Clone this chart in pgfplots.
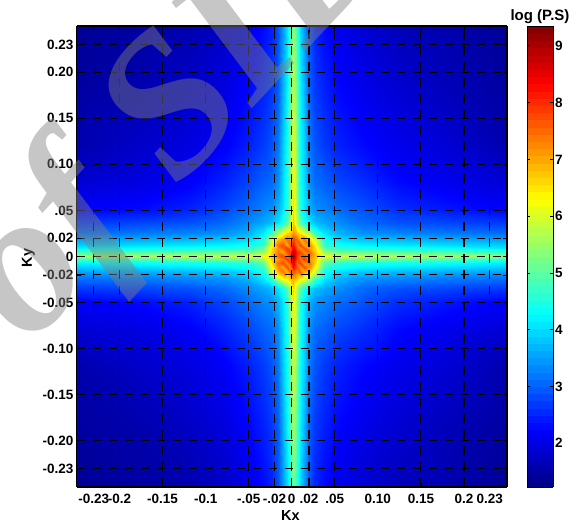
\documentclass[border=0pt]{standalone}
\usepackage{fontspec}
\setmainfont{Liberation Sans}
\newfontfamily\wmfont{Liberation Serif}
\usepackage{pgfplots}
\pgfplotsset{compat=1.18}
\begin{document}
\begin{tikzpicture}[x=1pt,y=1pt]
\path[use as bounding box] (0,0) rectangle (576,525);
\begin{axis}[
  at={(76.5pt,38pt)},anchor=south west,scale only axis,width=430.5pt,height=461pt,
  view={0}{90},xmin=-0.25,xmax=0.25,ymin=-0.25,ymax=0.25,
  axis on top,colormap/jet,point meta min=1.23,point meta max=9.35,
  xtick={-0.23,-0.2,-0.15,-0.1,-0.05,-0.02,0,0.02,0.05,0.1,0.15,0.2,0.23},
  xticklabels={-0.23,-0.2,-0.15,-0.1,-.05,-.02,0,.02,.05,0.10,0.15,0.2,0.23},
  ytick={-0.23,-0.2,-0.15,-0.1,-0.05,-0.02,0,0.02,0.05,0.1,0.15,0.2,0.23},
  yticklabels={-0.23,-0.20,-0.15,-0.10,-0.05,-0.02,0,0.02,.05,0.10,0.15,0.20,0.23},
  tick align=inside,tick pos=both,major tick length=4pt,
  tick style={black,line width=0.8pt},
  grid=major,major grid style={black,line width=1.1pt,dash pattern=on 8.5pt off 7.5pt},
  axis line style={black,line width=1.1pt},
  tick label style={font=\fontsize{13.5}{15}\selectfont\bfseries},
  xticklabel style={inner sep=2pt,yshift=-5pt},
  yticklabel style={inner sep=2pt,xshift=-1pt},
  xlabel={Kx},ylabel={Ky},
  label style={font=\fontsize{14.5}{16}\selectfont\bfseries},
  xlabel style={at={(axis description cs:0.497,0)},anchor=center,yshift=-29pt,inner sep=0pt},
  ylabel style={at={(axis description cs:0,0.497)},anchor=center,yshift=48pt,inner sep=0pt},
  colorbar sampled,
  colorbar style={at={(1.0465,1)},anchor=north west,width=26pt,height=461pt,samples=65,
    ymin=1.23,ymax=9.35,
    ytick={2,3,4,5,6,7,8,9},yticklabels={2,3,4,5,6,7,8,9},
    tick align=inside,tick pos=both,yticklabel pos=right,xtick=\empty,
    major tick length=3pt,
    tick style={black,line width=0.8pt},
    axis line style={black,line width=0.9pt},
    yticklabel style={font=\fontsize{13.5}{15}\selectfont\bfseries,inner sep=2pt},
    title={log (P.S)},
    title style={font=\fontsize{15}{16}\selectfont\bfseries,yshift=-6pt,inner sep=2pt,xshift=0pt},
  },
]
\addplot3[surf,shader=interp,mesh/rows=23,mesh/cols=23,mesh/ordering=x varies] coordinates {
(-.25,-.25,1.4)(-.178,-.25,1.5)(-.118,-.25,1.6)(-.078,-.25,1.8)(-.048,-.25,2.1)(-.033,-.25,2.3)(-.023,-.25,2.5)(-.016,-.25,2.9)(-.01,-.25,3.5)(-.006,-.25,4.0)(-.002,-.25,4.5)(.002,-.25,5.3)(.006,-.25,4.5)(.01,-.25,4.0)(.014,-.25,3.5)(.02,-.25,2.9)(.027,-.25,2.5)(.037,-.25,2.3)(.052,-.25,2.1)(.082,-.25,1.9)(.122,-.25,1.7)(.182,-.25,1.6)(.25,-.25,1.4)
(-.25,-.179,1.5)(-.178,-.179,1.6)(-.118,-.179,1.8)(-.078,-.179,2.0)(-.048,-.179,2.3)(-.033,-.179,2.5)(-.023,-.179,2.7)(-.016,-.179,3.0)(-.01,-.179,3.7)(-.006,-.179,4.2)(-.002,-.179,4.9)(.002,-.179,5.7)(.006,-.179,4.9)(.01,-.179,4.2)(.014,-.179,3.7)(.02,-.179,3.0)(.027,-.179,2.7)(.037,-.179,2.5)(.052,-.179,2.3)(.082,-.179,2.1)(.122,-.179,1.9)(.182,-.179,1.7)(.25,-.179,1.5)
(-.25,-.119,1.6)(-.178,-.119,1.8)(-.118,-.119,2.0)(-.078,-.119,2.2)(-.048,-.119,2.5)(-.033,-.119,2.7)(-.023,-.119,2.9)(-.016,-.119,3.2)(-.01,-.119,3.9)(-.006,-.119,4.3)(-.002,-.119,5.1)(.002,-.119,6.0)(.006,-.119,5.1)(.01,-.119,4.3)(.014,-.119,3.9)(.02,-.119,3.2)(.027,-.119,2.9)(.037,-.119,2.7)(.052,-.119,2.5)(.082,-.119,2.3)(.122,-.119,2.1)(.182,-.119,1.9)(.25,-.119,1.6)
(-.25,-.079,1.9)(-.178,-.079,2.0)(-.118,-.079,2.2)(-.078,-.079,2.5)(-.048,-.079,2.8)(-.033,-.079,3.0)(-.023,-.079,3.1)(-.016,-.079,3.4)(-.01,-.079,4.0)(-.006,-.079,4.4)(-.002,-.079,5.3)(.002,-.079,6.3)(.006,-.079,5.3)(.01,-.079,4.4)(.014,-.079,4.0)(.02,-.079,3.4)(.027,-.079,3.1)(.037,-.079,3.0)(.052,-.079,2.8)(.082,-.079,2.6)(.122,-.079,2.3)(.182,-.079,2.1)(.25,-.079,1.9)
(-.25,-.049,2.2)(-.178,-.049,2.3)(-.118,-.049,2.5)(-.078,-.049,2.8)(-.048,-.049,3.1)(-.033,-.049,3.3)(-.023,-.049,3.4)(-.016,-.049,3.7)(-.01,-.049,4.1)(-.006,-.049,4.5)(-.002,-.049,5.4)(.002,-.049,6.5)(.006,-.049,5.4)(.01,-.049,4.5)(.014,-.049,4.1)(.02,-.049,3.7)(.027,-.049,3.4)(.037,-.049,3.3)(.052,-.049,3.1)(.082,-.049,2.9)(.122,-.049,2.6)(.182,-.049,2.4)(.25,-.049,2.2)
(-.25,-.034,2.7)(-.178,-.034,2.8)(-.118,-.034,2.9)(-.078,-.034,3.1)(-.048,-.034,3.4)(-.033,-.034,3.6)(-.023,-.034,3.8)(-.016,-.034,4.1)(-.01,-.034,4.5)(-.006,-.034,5.0)(-.002,-.034,5.6)(.002,-.034,6.7)(.006,-.034,5.6)(.01,-.034,5.0)(.014,-.034,4.5)(.02,-.034,4.1)(.027,-.034,3.8)(.037,-.034,3.6)(.052,-.034,3.4)(.082,-.034,3.1)(.122,-.034,2.9)(.182,-.034,2.8)(.25,-.034,2.7)
(-.25,-.024,3.1)(-.178,-.024,3.2)(-.118,-.024,3.3)(-.078,-.024,3.4)(-.048,-.024,3.7)(-.033,-.024,4.1)(-.023,-.024,4.7)(-.016,-.024,5.7)(-.01,-.024,6.2)(-.006,-.024,6.4)(-.002,-.024,6.7)(.002,-.024,7.0)(.006,-.024,6.7)(.01,-.024,6.3)(.014,-.024,6.1)(.02,-.024,5.6)(.027,-.024,4.7)(.037,-.024,4.1)(.052,-.024,3.7)(.082,-.024,3.4)(.122,-.024,3.3)(.182,-.024,3.2)(.25,-.024,3.1)
(-.25,-.017,3.5)(-.178,-.017,3.6)(-.118,-.017,3.7)(-.078,-.017,3.8)(-.048,-.017,4.0)(-.033,-.017,4.4)(-.023,-.017,5.9)(-.016,-.017,6.9)(-.01,-.017,7.4)(-.006,-.017,6.9)(-.002,-.017,7.5)(.002,-.017,7.7)(.006,-.017,7.2)(.01,-.017,7.6)(.014,-.017,6.9)(.02,-.017,6.8)(.027,-.017,5.9)(.037,-.017,4.4)(.052,-.017,4.0)(.082,-.017,3.8)(.122,-.017,3.7)(.182,-.017,3.6)(.25,-.017,3.5)
(-.25,-.011,3.9)(-.178,-.011,4.0)(-.118,-.011,4.1)(-.078,-.011,4.2)(-.048,-.011,4.4)(-.033,-.011,4.7)(-.023,-.011,6.3)(-.016,-.011,7.3)(-.01,-.011,7.0)(-.006,-.011,7.7)(-.002,-.011,7.3)(.002,-.011,8.3)(.006,-.011,7.6)(.01,-.011,7.1)(.014,-.011,7.7)(.02,-.011,7.2)(.027,-.011,6.3)(.037,-.011,4.7)(.052,-.011,4.4)(.082,-.011,4.2)(.122,-.011,4.1)(.182,-.011,4.0)(.25,-.011,3.9)
(-.25,-.007,4.2)(-.178,-.007,4.3)(-.118,-.007,4.4)(-.078,-.007,4.5)(-.048,-.007,4.6)(-.033,-.007,5.0)(-.023,-.007,6.6)(-.016,-.007,7.5)(-.01,-.007,7.8)(-.006,-.007,7.2)(-.002,-.007,7.8)(.002,-.007,8.6)(.006,-.007,7.5)(.01,-.007,7.9)(.014,-.007,7.1)(.02,-.007,7.5)(.027,-.007,6.6)(.037,-.007,5.0)(.052,-.007,4.6)(.082,-.007,4.5)(.122,-.007,4.4)(.182,-.007,4.3)(.25,-.007,4.1)
(-.25,-.003,4.8)(-.178,-.003,4.9)(-.118,-.003,5.0)(-.078,-.003,5.1)(-.048,-.003,5.2)(-.033,-.003,5.5)(-.023,-.003,6.7)(-.016,-.003,7.1)(-.01,-.003,7.4)(-.006,-.003,7.9)(-.002,-.003,7.7)(.002,-.003,8.9)(.006,-.003,7.7)(.01,-.003,7.4)(.014,-.003,7.9)(.02,-.003,7.2)(.027,-.003,6.7)(.037,-.003,5.5)(.052,-.003,5.2)(.082,-.003,5.1)(.122,-.003,5.0)(.182,-.003,4.9)(.25,-.003,4.7)
(-.25,.001,5.5)(-.178,.001,5.6)(-.118,.001,5.7)(-.078,.001,5.8)(-.048,.001,6.0)(-.033,.001,6.2)(-.023,.001,6.8)(-.016,.001,7.5)(-.01,.001,7.8)(-.006,.001,7.4)(-.002,.001,7.9)(.002,.001,9.2)(.006,.001,7.9)(.01,.001,7.5)(.014,.001,7.7)(.02,.001,7.4)(.027,.001,6.8)(.037,.001,6.2)(.052,.001,6.0)(.082,.001,5.8)(.122,.001,5.7)(.182,.001,5.5)(.25,.001,5.4)
(-.25,.005,4.8)(-.178,.005,4.9)(-.118,.005,5.0)(-.078,.005,5.1)(-.048,.005,5.2)(-.033,.005,5.5)(-.023,.005,6.7)(-.016,.005,7.4)(-.01,.005,6.9)(-.006,.005,7.7)(-.002,.005,7.9)(.002,.005,8.9)(.006,.005,8.0)(.01,.005,7.8)(.014,.005,7.2)(.02,.005,7.6)(.027,.005,6.7)(.037,.005,5.5)(.052,.005,5.2)(.082,.005,5.1)(.122,.005,5.0)(.182,.005,4.9)(.25,.005,4.7)
(-.25,.009,4.2)(-.178,.009,4.3)(-.118,.009,4.4)(-.078,.009,4.5)(-.048,.009,4.6)(-.033,.009,5.0)(-.023,.009,6.6)(-.016,.009,7.2)(-.01,.009,7.6)(-.006,.009,7.9)(-.002,.009,7.5)(.002,.009,8.6)(.006,.009,7.6)(.01,.009,7.2)(.014,.009,7.7)(.02,.009,7.1)(.027,.009,6.6)(.037,.009,5.0)(.052,.009,4.6)(.082,.009,4.5)(.122,.009,4.4)(.182,.009,4.3)(.25,.009,4.1)
(-.25,.013,3.9)(-.178,.013,4.0)(-.118,.013,4.1)(-.078,.013,4.2)(-.048,.013,4.4)(-.033,.013,4.7)(-.023,.013,6.3)(-.016,.013,7.5)(-.01,.013,7.7)(-.006,.013,7.0)(-.002,.013,7.6)(.002,.013,8.3)(.006,.013,7.4)(.01,.013,7.8)(.014,.013,7.0)(.02,.013,7.3)(.027,.013,6.3)(.037,.013,4.7)(.052,.013,4.4)(.082,.013,4.2)(.122,.013,4.1)(.182,.013,4.0)(.25,.013,3.9)
(-.25,.019,3.5)(-.178,.019,3.6)(-.118,.019,3.7)(-.078,.019,3.8)(-.048,.019,4.0)(-.033,.019,4.4)(-.023,.019,5.9)(-.016,.019,6.8)(-.01,.019,7.1)(-.006,.019,7.5)(-.002,.019,7.2)(.002,.019,7.8)(.006,.019,7.5)(.01,.019,6.9)(.014,.019,7.4)(.02,.019,6.7)(.027,.019,5.9)(.037,.019,4.4)(.052,.019,4.0)(.082,.019,3.8)(.122,.019,3.7)(.182,.019,3.6)(.25,.019,3.5)
(-.25,.026,3.1)(-.178,.026,3.2)(-.118,.026,3.3)(-.078,.026,3.4)(-.048,.026,3.7)(-.033,.026,4.1)(-.023,.026,4.7)(-.016,.026,5.6)(-.01,.026,6.2)(-.006,.026,6.6)(-.002,.026,6.8)(.002,.026,7.2)(.006,.026,6.7)(.01,.026,6.5)(.014,.026,6.1)(.02,.026,5.6)(.027,.026,4.7)(.037,.026,4.1)(.052,.026,3.7)(.082,.026,3.4)(.122,.026,3.3)(.182,.026,3.2)(.25,.026,3.1)
(-.25,.036,2.7)(-.178,.036,2.8)(-.118,.036,2.9)(-.078,.036,3.1)(-.048,.036,3.4)(-.033,.036,3.6)(-.023,.036,3.8)(-.016,.036,4.1)(-.01,.036,4.5)(-.006,.036,5.0)(-.002,.036,5.6)(.002,.036,6.8)(.006,.036,5.6)(.01,.036,5.0)(.014,.036,4.5)(.02,.036,4.1)(.027,.036,3.8)(.037,.036,3.6)(.052,.036,3.4)(.082,.036,3.1)(.122,.036,2.9)(.182,.036,2.8)(.25,.036,2.7)
(-.25,.051,2.2)(-.178,.051,2.3)(-.118,.051,2.5)(-.078,.051,2.8)(-.048,.051,3.1)(-.033,.051,3.3)(-.023,.051,3.4)(-.016,.051,3.7)(-.01,.051,4.1)(-.006,.051,4.5)(-.002,.051,5.4)(.002,.051,6.6)(.006,.051,5.4)(.01,.051,4.5)(.014,.051,4.1)(.02,.051,3.7)(.027,.051,3.4)(.037,.051,3.3)(.052,.051,3.1)(.082,.051,2.9)(.122,.051,2.6)(.182,.051,2.4)(.25,.051,2.2)
(-.25,.081,1.9)(-.178,.081,2.0)(-.118,.081,2.2)(-.078,.081,2.5)(-.048,.081,2.8)(-.033,.081,3.0)(-.023,.081,3.1)(-.016,.081,3.4)(-.01,.081,4.0)(-.006,.081,4.4)(-.002,.081,5.3)(.002,.081,6.4)(.006,.081,5.3)(.01,.081,4.4)(.014,.081,4.0)(.02,.081,3.4)(.027,.081,3.1)(.037,.081,3.0)(.052,.081,2.8)(.082,.081,2.6)(.122,.081,2.3)(.182,.081,2.1)(.25,.081,1.9)
(-.25,.121,1.6)(-.178,.121,1.8)(-.118,.121,2.0)(-.078,.121,2.2)(-.048,.121,2.5)(-.033,.121,2.7)(-.023,.121,2.9)(-.016,.121,3.2)(-.01,.121,3.9)(-.006,.121,4.3)(-.002,.121,5.2)(.002,.121,6.2)(.006,.121,5.2)(.01,.121,4.3)(.014,.121,3.9)(.02,.121,3.2)(.027,.121,2.9)(.037,.121,2.7)(.052,.121,2.5)(.082,.121,2.3)(.122,.121,2.1)(.182,.121,1.9)(.25,.121,1.6)
(-.25,.181,1.5)(-.178,.181,1.6)(-.118,.181,1.8)(-.078,.181,2.0)(-.048,.181,2.3)(-.033,.181,2.5)(-.023,.181,2.7)(-.016,.181,3.0)(-.01,.181,3.7)(-.006,.181,4.2)(-.002,.181,5.0)(.002,.181,5.9)(.006,.181,5.0)(.01,.181,4.2)(.014,.181,3.7)(.02,.181,3.0)(.027,.181,2.7)(.037,.181,2.5)(.052,.181,2.3)(.082,.181,2.1)(.122,.181,1.9)(.182,.181,1.7)(.25,.181,1.5)
(-.25,.25,1.4)(-.178,.25,1.5)(-.118,.25,1.6)(-.078,.25,1.8)(-.048,.25,2.1)(-.033,.25,2.3)(-.023,.25,2.5)(-.016,.25,2.9)(-.01,.25,3.5)(-.006,.25,4.0)(-.002,.25,4.7)(.002,.25,5.5)(.006,.25,4.7)(.01,.25,4.0)(.014,.25,3.5)(.02,.25,2.9)(.027,.25,2.5)(.037,.25,2.3)(.052,.25,2.1)(.082,.25,1.9)(.122,.25,1.7)(.182,.25,1.6)(.25,.25,1.4)
};
\end{axis}
\node[rotate=47,anchor=base west,inner sep=0pt,text=black!50,text opacity=0.45,font=\wmfont\bfseries\itshape\fontsize{200}{200}\selectfont] at (30,178) {of SID};
\end{tikzpicture}
\end{document}
